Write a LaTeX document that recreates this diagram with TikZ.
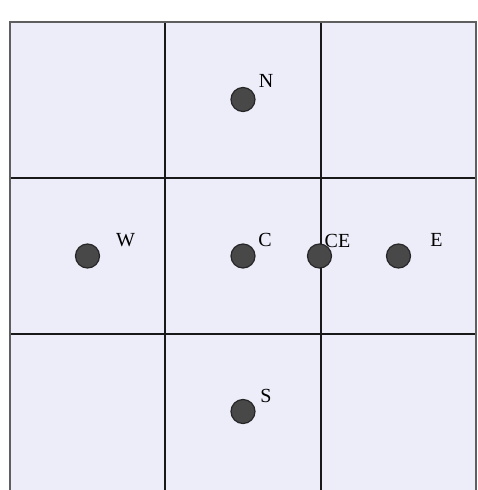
\documentclass[tikz,border=0pt]{standalone}
\usepackage{fontspec}
\setmainfont{Liberation Serif}
\usetikzlibrary{positioning, calc}
\definecolor{cCell}{RGB}{237,237,250}
\definecolor{cDot}{RGB}{72,72,72}
\definecolor{cFrame}{RGB}{95,95,95}
\tikzset{
	site/.style={circle, draw=black!85, fill=cDot, line width=0.9pt, minimum size=18pt, inner sep=0pt},
	tag/.style={font=\fontsize{15}{15}\selectfont, inner sep=0pt},
	cellline/.style={line width=1.5pt, draw=black!90},
}

\begin{document}
\begin{tikzpicture}[x=0.75pt, y=-0.75pt]
	\useasboundingbox (0,0) rectangle (478,490);
	% cells
	\fill[cCell] (10,22) rectangle (476,490);
	\draw[cellline] (165,22) -- (165,490);
	\draw[cellline] (320.5,22) -- (320.5,490);
	\draw[cellline] (10,178) -- (476,178);
	\draw[cellline] (10,334) -- (476,334);
	\draw[line width=1.7pt, draw=cFrame] (10,490) -- (10,22) -- (476,22) -- (476,490);
	% sites
	\node[site] (N) at (243,99.5) {};
	\node[site] (W) at (87.5,256) {};
	\node[site] (C) at (243,256) {};
	\node[site] (CE) at (319.5,256) {};
	\node[site] (E) at (398.5,256) {};
	\node[site] (S) at (243,411.5) {};
	% labels
	\node[tag] (lN) at ($(N)+(23,-19)$) {N};
	\node[tag] (lW) at ($(W)+(38,-16)$) {W};
	\node[tag] (lC) at ($(C)+(22,-16)$) {C};
	\node[tag] (lCE) at ($(CE)+(18,-15)$) {CE};
	\node[tag] (lE) at ($(E)+(38,-16)$) {E};
	\node[tag] (lS) at ($(S)+(23,-16)$) {S};
\end{tikzpicture}
\end{document}
